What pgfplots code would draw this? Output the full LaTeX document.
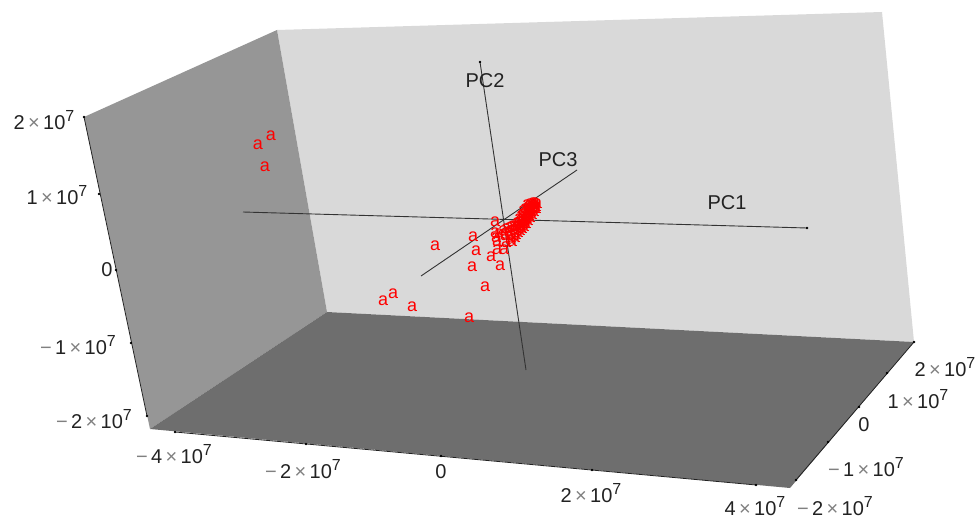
\documentclass[border=0pt]{standalone}
\usepackage{pgfplots}
\pgfplotsset{compat=1.18}
\usepackage{fontspec}
\setmainfont{Liberation Sans}
\definecolor{wallB}{HTML}{D9D9D9}
\definecolor{wallL}{HTML}{969696}
\definecolor{wallF}{HTML}{6E6E6E}
\definecolor{tkc}{HTML}{222222}
\newcommand{\sci}[2]{#1\,{\color{gray}×}\,10\raisebox{7.5pt}{\fontsize{16}{16}\selectfont #2}}
\newcommand{\mn}{{\color{gray}−}\,}
\tikzset{lbl/.style={font=\fontsize{20}{24}\selectfont, text=tkc, inner sep=0pt, anchor=center}}
\pgfplotstableread{
x y
258 145
271 136
265 167
435 246
473 237
476 251
472 267
491 257
497 250
504 250
500 266
485 287
383 301
393 294
412 307
469 318
495 222
495 233
496 238
497 242
499 234
503 231
505 236
506 229
509 233
510 240
512 236
511 227
514 231
517 227
515 238
518 233
519 222
521 228
522 218
524 224
523 214
526 219
527 211
529 216
528 207
531 212
532 205
534 209
535 203
536 207
533 203
529 206
509 228
513 226
506 243
512 242
516 235
520 231
522 229
524 227
526 224
528 221
530 218
532 215
534 212
536 209
520 225
522 222
524 220
526 216
528 213
530 210
532 208
521 216
523 211
525 209
527 205
519 219
517 223
515 226
530 204
534 205
537 204
}\ptsA
\pgfplotstableread{
x y
84 117
99 194
116 270
131 343
147 416
175 432
306 444
441 456
592 470
756 485
796 480
828 442
859 407
887 373
914 342
480 62
807 228
}\ticks
\begin{document}
\begin{tikzpicture}
\path[use as bounding box] (0,0) rectangle (976pt,519pt);
\begin{axis}[
  at={(0,0)}, anchor=south west,
  scale only axis, width=976pt, height=519pt,
  xmin=0, xmax=976, ymin=0, ymax=519, y dir=reverse,
  hide axis, clip=false,
  every axis plot/.append style={line join=round},
]
\addplot[fill=wallB, draw=none] coordinates {(277,30)(882,12)(914,342)(327,312)} --cycle;
\addplot[fill=wallL, draw=none] coordinates {(84,117)(277,30)(327,312)(150,429)} --cycle;
\addplot[fill=wallF, draw=none] coordinates {(150,429)(327,312)(914,342)(790,488)} --cycle;
% box edges
\addplot[tkc, line width=0.8pt] coordinates {(84,117)(147,416)};
\addplot[tkc, line width=0.8pt] coordinates {(175,432)(756,485)};
\addplot[tkc, line width=0.8pt] coordinates {(796,480)(914,342)};
% PC axes
\addplot[black!80, line width=0.9pt] coordinates {(243,212)(807,228)};
\addplot[black!80, line width=0.9pt] coordinates {(480,62)(526,370)};
\addplot[black!80, line width=0.9pt] coordinates {(421,276)(577,170)};
\addplot[only marks, mark=*, mark size=1.1pt, color=black] table[x=x,y=y]{\ticks};
% points
\addplot[only marks, mark=none, nodes near coords={a},
  every node near coord/.style={anchor=center, inner sep=0pt, text=red, font=\fontsize{18}{18}\selectfont}]
  table[x=x,y=y]{\ptsA};
% labels
\node[lbl] at (axis cs:485,81) {PC2};
\node[lbl] at (axis cs:558,160) {PC3};
\node[lbl] at (axis cs:727,203) {PC1};
\node[lbl] at (axis cs:44,120) {\sci{2}{7}};
\node[lbl] at (axis cs:57,195) {\sci{1}{7}};
\node[lbl] at (axis cs:107,270) {0};
\node[lbl] at (axis cs:78,345) {\mn\sci{1}{7}};
\node[lbl] at (axis cs:94,419) {\mn\sci{2}{7}};
\node[lbl] at (axis cs:174,454) {\mn\sci{4}{7}};
\node[lbl] at (axis cs:303,469) {\mn\sci{2}{7}};
\node[lbl] at (axis cs:441,472) {0};
\node[lbl] at (axis cs:591,493) {\sci{2}{7}};
\node[lbl] at (axis cs:755,506) {\sci{4}{7}};
\node[lbl] at (axis cs:835,506) {\mn\sci{2}{7}};
\node[lbl] at (axis cs:866,467) {\mn\sci{1}{7}};
\node[lbl] at (axis cs:864,425) {0};
\node[lbl] at (axis cs:918,399) {\sci{1}{7}};
\node[lbl] at (axis cs:945,367) {\sci{2}{7}};
\end{axis}
\end{tikzpicture}
\end{document}
